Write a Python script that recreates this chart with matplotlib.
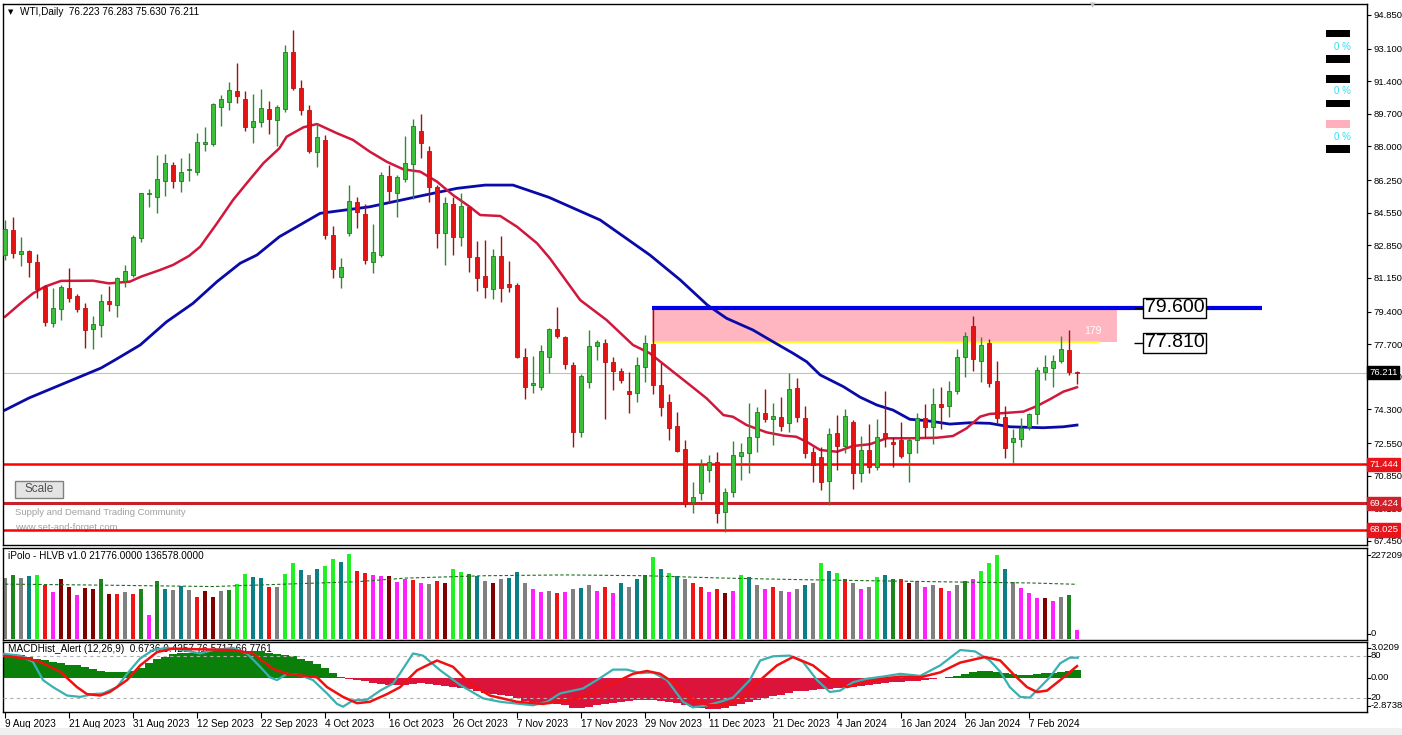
import numpy as np
import matplotlib.pyplot as plt
from matplotlib.patches import Rectangle

plt.rcParams['font.family'] = ['Liberation Sans', 'DejaVu Sans']

W, H = 1402, 735

# ---------------- data ----------------
date_labels = ['9 Aug 2023', '21 Aug 2023', '31 Aug 2023', '12 Sep 2023', '22 Sep 2023',
               '4 Oct 2023', '16 Oct 2023', '26 Oct 2023', '7 Nov 2023', '17 Nov 2023',
               '29 Nov 2023', '11 Dec 2023', '21 Dec 2023', '4 Jan 2024', '16 Jan 2024',
               '26 Jan 2024', '7 Feb 2024']
date_bars = [0, 8, 16, 24, 32, 40, 48, 56, 64, 72, 80, 88, 96, 104, 112, 120, 128]

opens = [82.35, 83.65, 82.40, 82.56, 81.99, 80.68, 78.81, 79.54, 80.63, 80.21,
         79.59, 78.50, 78.70, 79.95, 79.75, 80.99, 81.31, 83.24, 85.55, 85.37,
         86.20, 87.04, 86.20, 86.80, 86.67, 88.13, 88.13, 90.06, 90.32, 90.89,
         90.48, 89.02, 89.28, 89.96, 89.38, 89.96, 92.92, 91.05, 89.90, 87.71,
         88.34, 83.39, 81.20, 83.50, 85.11, 84.48, 81.99, 82.35, 86.46, 85.58,
         86.31, 87.09, 88.81, 87.77, 85.89, 83.50, 85.00, 83.29, 84.85, 82.25,
         81.26, 80.58, 82.30, 80.84, 80.79, 77.04, 75.60, 75.47, 77.04, 78.50,
         78.08, 76.62, 73.13, 75.73, 77.61, 77.76, 76.78, 76.31, 75.26, 75.16,
         76.52, 77.71, 75.57, 74.69, 73.44, 72.24, 69.48, 69.95, 71.15, 71.57,
         68.96, 70.00, 71.88, 72.03, 72.87, 74.12, 73.81, 73.91, 73.60, 75.42,
         73.86, 72.09, 71.83, 70.58, 73.08, 72.40, 73.65, 70.99, 72.19, 71.31,
         73.08, 72.61, 72.71, 72.03, 72.71, 73.86, 73.39, 74.59, 74.48, 75.27,
         77.04, 78.65, 76.83, 77.76, 75.78, 73.91, 72.61, 72.76, 73.39, 74.07,
         76.26, 76.46, 76.83, 77.40, 76.223]
highs = [84.17, 84.33, 83.29, 82.61, 82.40, 80.79, 80.63, 80.79, 81.67, 80.32,
         79.85, 79.17, 80.32, 80.74, 81.20, 81.83, 83.39, 85.60, 85.79, 87.56,
         87.61, 87.19, 87.40, 87.66, 88.70, 89.02, 90.27, 90.68, 91.36, 92.35,
         90.89, 90.73, 91.00, 90.37, 90.16, 93.29, 94.07, 91.46, 90.16, 89.22,
         88.60, 83.86, 82.20, 85.99, 85.37, 85.00, 83.96, 86.67, 87.04, 86.52,
         88.55, 89.43, 89.69, 88.03, 85.99, 85.37, 85.37, 85.58, 84.85, 83.08,
         83.13, 82.66, 83.34, 82.04, 80.90, 77.50, 77.09, 77.66, 78.55, 79.64,
         78.13, 76.78, 76.15, 78.44, 77.92, 77.97, 77.04, 76.46, 76.25, 77.04,
         78.18, 79.64, 76.72, 75.11, 74.17, 72.71, 70.52, 71.72, 71.93, 72.09,
         70.21, 72.66, 72.56, 74.64, 74.43, 75.37, 74.64, 74.95, 76.20, 75.94,
         74.48, 72.35, 72.35, 73.34, 74.01, 74.33, 73.75, 72.92, 73.54, 73.81,
         75.27, 72.87, 73.65, 72.82, 74.12, 74.59, 75.42, 75.47, 75.79, 77.45,
         78.34, 79.17, 78.08, 77.97, 76.83, 74.48, 73.29, 73.86, 74.12, 76.52,
         77.14, 77.14, 78.13, 78.44, 76.283]
lows = [82.09, 82.20, 81.78, 81.20, 80.11, 78.65, 78.60, 78.96, 79.90, 79.38,
        77.50, 77.45, 78.08, 79.43, 79.12, 80.68, 81.20, 83.03, 84.85, 84.54,
        85.42, 85.84, 85.63, 86.20, 86.52, 87.77, 88.03, 89.07, 89.90, 90.27,
        88.81, 88.18, 89.02, 88.65, 88.00, 89.80, 90.94, 89.64, 87.66, 86.93,
        83.18, 81.15, 80.63, 83.34, 83.76, 81.88, 81.41, 82.25, 85.06, 84.33,
        86.15, 85.27, 87.40, 85.11, 82.71, 81.83, 82.35, 82.82, 81.46, 80.48,
        80.11, 80.06, 79.90, 80.42, 76.98, 74.85, 75.16, 75.31, 76.20, 78.03,
        76.41, 72.35, 72.87, 75.42, 76.88, 73.81, 75.31, 75.68, 74.12, 74.69,
        75.73, 75.11, 73.96, 72.71, 72.09, 69.22, 68.91, 69.59, 70.52, 68.39,
        67.92, 69.74, 70.63, 71.00, 72.09, 73.65, 72.45, 73.18, 73.13, 73.65,
        71.77, 70.52, 70.11, 69.33, 71.15, 72.03, 70.16, 70.52, 70.99, 71.15,
        72.35, 71.31, 71.78, 70.52, 72.03, 72.87, 72.50, 73.29, 73.91, 75.11,
        76.00, 76.31, 75.73, 75.47, 73.60, 71.77, 71.52, 72.35, 73.23, 73.54,
        75.84, 75.47, 76.72, 76.10, 75.630]
closes = [83.70, 82.45, 82.56, 81.99, 80.58, 78.86, 79.59, 80.68, 80.11, 79.54,
          78.44, 78.76, 79.95, 79.80, 81.15, 81.52, 83.29, 85.58, 85.60, 86.31,
          87.14, 86.20, 86.67, 86.82, 88.24, 88.24, 90.21, 90.48, 90.94, 90.63,
          89.02, 89.33, 90.01, 89.43, 90.06, 92.92, 91.05, 89.90, 87.77, 88.50,
          83.39, 81.62, 81.73, 85.16, 84.59, 82.09, 82.51, 86.52, 85.68, 86.41,
          87.14, 89.07, 88.18, 85.89, 83.50, 85.06, 83.29, 84.90, 82.25, 81.15,
          80.68, 82.30, 80.63, 80.68, 77.04, 75.47, 75.70, 77.35, 78.50, 78.13,
          76.67, 73.13, 76.05, 77.61, 77.82, 76.78, 76.31, 75.84, 75.11, 76.62,
          77.76, 75.57, 74.43, 73.34, 72.14, 69.38, 69.74, 71.41, 71.57, 68.91,
          70.00, 71.93, 72.09, 72.87, 74.17, 73.81, 73.96, 73.44, 75.37, 73.91,
          72.03, 71.41, 70.52, 73.03, 72.40, 73.96, 70.99, 72.19, 71.31, 72.87,
          72.82, 72.50, 71.88, 72.71, 73.86, 73.39, 74.59, 74.43, 75.27, 77.04,
          78.13, 76.93, 77.66, 75.68, 73.86, 72.29, 72.82, 73.34, 74.07, 76.36,
          76.52, 76.83, 77.45, 76.26, 76.211]

# moving averages as drawn on the chart (bar index, price)
ma_fast_bars = [0, 2, 3.5, 5, 7, 11, 13, 15.6, 17, 19.4, 21, 23, 24.4, 26.5, 28.5, 30.2, 32.3,
                34.3, 35.2, 37.3, 39, 41.5, 43.5, 45.6, 47.7, 49.8, 51.9, 54, 56, 58.1, 59.4,
                61.9, 64, 66.5, 68.1, 71.9, 75.2, 78.5, 80.6, 83.5, 85.6, 87.7, 89.8, 91,
                92.7, 95.2, 97.3, 98.9, 100.2, 101.9, 104, 106, 108.1, 110.2, 113.1, 116.5,
                118.5, 120.2, 121.9, 123.1, 124.4, 127.3, 129, 130.6, 132.3, 134]
ma_fast = [79.13, 79.85, 80.35, 80.70, 81.00, 81.01, 80.87, 80.96, 81.22, 81.57, 81.83,
           82.30, 82.78, 84.00, 85.21, 86.08, 87.13, 87.91, 88.51, 89.00, 89.17, 88.69,
           88.34, 87.73, 87.21, 86.81, 86.69, 86.17, 85.47, 84.86, 84.43, 84.38, 83.82,
           82.96, 82.18, 80.00, 78.96, 77.66, 77.23, 76.27, 75.58, 74.88, 74.01, 73.92,
           73.49, 73.11, 72.94, 72.88, 72.62, 72.19, 72.10, 72.40, 72.49, 72.80, 72.80,
           72.83, 72.92, 73.32, 73.93, 74.07, 74.10, 74.19, 74.48, 74.83, 75.23, 75.46]
ma_slow_bars = [0, 3, 6, 9, 12, 13.75, 16.9, 20.2, 23.5, 26.5, 29.4, 31.5, 34.3, 39.4, 45.6,
                51.9, 56.5, 60, 63.5, 68, 74.4, 80.6, 84.4, 87.8, 90.2, 93.5, 96, 98.5,
                100.2, 101.9, 104.8, 106.9, 109, 111, 113.1, 115.2, 118.1, 120.6, 123.1,
                125.6, 129.8, 132.3, 134]
ma_slow = [74.27, 74.90, 75.42, 75.94, 76.46, 76.88, 77.66, 78.87, 79.83, 80.96, 81.92,
           82.35, 83.30, 84.52, 84.86, 85.42, 85.82, 85.99, 85.99, 85.35, 84.17, 82.35,
           81.05, 79.74, 79.05, 78.44, 77.83, 77.23, 76.79, 76.10, 75.49, 74.94, 74.53,
           74.27, 73.79, 73.72, 73.54, 73.61, 73.58, 73.40, 73.35, 73.40, 73.49]

levels = [71.444, 69.424, 68.025]
zone_top, zone_bottom = 79.600, 77.810
last_price = 76.211
price_ticks = [94.85, 93.10, 91.40, 89.70, 88.00, 86.25, 84.55, 82.85, 81.15, 79.40,
               77.70, 76.00, 74.30, 72.55, 70.85, 69.15, 67.45]

# volume (thousands) and HLVB colour codes, one per bar
volume = [153, 160, 153, 158, 160, 134, 118, 150, 131, 110,
          128, 125, 150, 113, 113, 118, 113, 125, 60, 145,
          125, 122, 132, 122, 105, 120, 105, 120, 122, 138,
          163, 155, 152, 130, 130, 163, 190, 172, 160, 175,
          182, 200, 193, 213, 170, 165, 160, 158, 158, 143,
          150, 148, 140, 138, 145, 140, 175, 168, 162, 158,
          145, 140, 150, 152, 168, 140, 125, 118, 120, 115,
          118, 125, 128, 135, 120, 130, 115, 140, 130, 150,
          160, 205, 175, 165, 158, 150, 140, 130, 118, 125,
          115, 120, 160, 155, 135, 125, 130, 120, 118, 125,
          135, 140, 190, 170, 165, 150, 140, 125, 130, 155,
          160, 150, 150, 140, 145, 130, 135, 128, 120, 135,
          145, 150, 170, 190, 210, 175, 142, 127, 116, 102,
          102, 95, 105, 110, 21.8]
vol_codes = list('GFGTLRMDDM' 'DDFDRGRFMF' 'TGTGRDDGFL' 'LTTRGLLTGT' 'LLTLRRMMDM'
                 'MRMGRDLLFT' 'GDGTTGMMGR' 'MGTGMRMTGT' 'FLTLTGRRMR' 'DMLTGMRGMG'
                 'TGLTLRGMGL' 'TFRDGMGRMG' 'FMLLLTGMMM' 'DMGFM')
vol_ma_bars = [0, 10, 26, 35, 44, 50, 60, 70, 80, 90, 100, 110, 120, 128, 134]
vol_ma = [137, 135, 131, 137, 143, 152, 158, 160, 158, 152, 148, 145, 142, 140, 136.6]

macd = [2.05, 2.05, 1.95, 1.80, 1.60, 1.50, 1.35, 1.25, 1.15, 1.10,
        0.95, 0.80, 0.60, 0.50, 0.50, 0.50, 0.60, 0.85, 1.30, 1.60,
        1.80, 2.00, 2.10, 2.15, 2.20, 2.25, 2.30, 2.35, 2.35, 2.30,
        2.30, 2.30, 2.25, 2.10, 2.00, 1.95, 1.85, 1.60, 1.45, 1.20,
        0.85, 0.45, 0.10, -0.10, -0.15, -0.25, -0.40, -0.50, -0.55, -0.60,
        -0.60, -0.50, -0.40, -0.45, -0.60, -0.65, -0.75, -0.80, -0.90, -1.10,
        -1.25, -1.30, -1.40, -1.50, -1.70, -1.90, -2.00, -2.05, -2.10, -2.20,
        -2.30, -2.50, -2.50, -2.40, -2.30, -2.20, -2.10, -2.00, -1.95, -1.85,
        -1.80, -1.80, -1.90, -2.00, -2.10, -2.30, -2.45, -2.50, -2.60, -2.60,
        -2.55, -2.35, -2.15, -2.00, -1.80, -1.65, -1.50, -1.40, -1.25, -1.10,
        -1.05, -1.00, -0.95, -0.90, -0.85, -0.80, -0.75, -0.70, -0.60, -0.50,
        -0.40, -0.35, -0.30, -0.25, -0.20, -0.15, -0.05, 0.05, 0.10, 0.20,
        0.35, 0.50, 0.60, 0.60, 0.55, 0.45, 0.35, 0.30, 0.30, 0.35,
        0.40, 0.45, 0.50, 0.58, 0.67]

stoch_k_bars = [-0.6, 1.9, 3.5, 4.75, 6, 7.75, 9.4, 11, 12.25, 14, 15.25, 16.9, 18.5, 20.25,
                22.25, 24.4, 26, 27.75, 28.5, 30.25, 31.9, 33.1, 34, 35.25, 36.9, 38.5,
                40.25, 41.5, 42.25, 43.5, 45.25, 46.9, 48.5, 49.4, 51, 52.25, 54.4, 56.9,
                59.75, 61.9, 66, 67.75, 69.4, 72.25, 74.4, 76, 77.75, 79.4, 81, 82.75,
                84.75, 86, 87.75, 89.4, 91, 93.1, 94.4, 96, 98.1, 99.75, 101.5, 103.1,
                104.4, 106, 107.75, 109.75, 111.9, 114.4, 116.9, 119.4, 121.25, 123.1,
                124.4, 125.6, 126.9, 128.1, 129.4, 130.6, 131.9, 133.1, 134.1]
stoch_k = [84, 81, 72, 46, 36, 24, 22, 26, 27, 36, 55, 77, 89, 92, 89, 84, 89, 91, 92, 84,
           65, 50, 46, 55, 53, 46, 27, 12, 8, 17, 18, 31, 41, 56, 84, 81, 60, 39, 20, 15,
           10, 15, 27, 34, 49, 61, 61, 56, 57, 46, 15, 7, 10, 15, 21, 46, 74, 80, 81, 72,
           46, 29, 31, 43, 48, 51, 55, 52, 67, 89, 87, 74, 58, 36, 22, 21, 36, 50, 70,
           78, 78]
stoch_d_bars = [-0.6, 2.75, 4.4, 6.9, 9, 10.25, 11.9, 13.1, 15.25, 16.9, 19, 21, 24.4, 28.5,
                31, 33.5, 35.25, 39, 40.25, 42.25, 44, 45.6, 47.75, 49.4, 51.5, 54, 56,
                58.1, 60.6, 64, 67.25, 70.25, 72.75, 76, 78.5, 80.25, 81.9, 84, 86, 88.1,
                90.25, 92.25, 94.4, 96.5, 98.5, 101, 103.1, 105.25, 107.25, 109.75, 111.9,
                114.4, 116.9, 119.4, 122.5, 124.4, 126, 127.75, 129, 130.25, 131.9, 134]
stoch_d = [81, 77, 72, 58, 36, 26, 24, 29, 46, 67, 86, 91, 90, 89, 84, 62, 55, 50, 36, 22,
           13, 15, 26, 36, 60, 74, 65, 41, 24, 15, 12, 17, 24, 41, 55, 59, 55, 39, 17, 10,
           10, 20, 46, 67, 79, 67, 48, 36, 42, 48, 51, 50, 57, 71, 79, 74, 55, 36, 29, 31,
           46, 66]

# ---------------- helpers: pixel -> data ----------------
def rect(x0, y0, x1, y1):
    return [x0 / W, 1 - y1 / H, (x1 - x0) / W, (y1 - y0) / H]

def px2bar(px):
    return (px - 5) / 8.0

def py2price(py):
    return 94.85 - (py - 15) / 19.197

bars = np.arange(len(closes))
o = np.array(opens); c = np.array(closes); hi = np.array(highs); lo = np.array(lows)
up = c >= o
FS = 6.8  # axis text size

fig = plt.figure(figsize=(W / 100, H / 100), dpi=100)
fig.patch.set_facecolor('white')

ax = fig.add_axes(rect(3, 4, 1367, 545))
axv = fig.add_axes(rect(3, 547.5, 1367, 640))
axm = fig.add_axes(rect(3, 642.3, 1367, 712.3))

xlim = (px2bar(3), px2bar(1367))
for a in (ax, axv, axm):
    a.set_xlim(*xlim)
    for s in a.spines.values():
        s.set_color('black')
        s.set_linewidth(1)

# ---------------- main price panel ----------------
ax.set_ylim(py2price(545), py2price(4))
ax.yaxis.tick_right()
ax.set_yticks(price_ticks)
ax.set_yticklabels(['%.3f' % v for v in price_ticks])
ax.tick_params(axis='y', direction='out', length=3, width=0.8, labelsize=FS, pad=1.5)
ax.set_xticks([])

# zone
ax.add_patch(Rectangle((px2bar(652), zone_bottom), px2bar(1117) - px2bar(652),
                       zone_top - zone_bottom, facecolor='#FFB6C1', edgecolor='none', zorder=1))
ax.hlines(zone_bottom, px2bar(652), px2bar(1100), color='#FFFF00', lw=1.2, zorder=1.5)
ax.text(px2bar(1093), py2price(331), '179', color='white', fontsize=7.5, ha='center',
        va='center', zorder=2)

# horizontal levels
ax.axhline(last_price, color='#C0C0C0', lw=0.8, zorder=1)
ax.axhline(levels[0], color='#FF0000', lw=1.8, zorder=1.5)
ax.axhline(levels[1], color='#C8202A', lw=2.2, zorder=1.5)
ax.axhline(levels[2], color='#FF0000', lw=1.8, zorder=1.5)

# moving averages
ax.plot(ma_slow_bars, ma_slow, color='#0A0AA8', lw=2, zorder=2)
ax.plot(ma_fast_bars, ma_fast, color='#D0183C', lw=1.8, zorder=2)

# candles
body_w = 0.62
wick_col = np.where(up, '#2E8B2E', '#A01010')
ax.vlines(bars, lo, hi, colors=wick_col, lw=1.0, zorder=3)
body_h = np.maximum(np.abs(c - o), 0.04)
ax.bar(bars, body_h, bottom=np.minimum(o, c), width=body_w,
       color=np.where(up, '#3CC03C', '#E41414'),
       edgecolor=np.where(up, '#1F7A1F', '#C01010'), linewidth=0.6, zorder=4)

# zone top line drawn over
ax.hlines(zone_top, px2bar(652), px2bar(1262), color='#0000E6', lw=3, zorder=5)

# big level labels
for val, py in ((zone_top, 308), (zone_bottom, 343)):
    ax.hlines(py2price(py), px2bar(1134), px2bar(1144), color='black', lw=1, zorder=6)
    ax.text(px2bar(1145), py2price(py), '%.3f' % val, fontsize=14, color='black',
            ha='left', va='center', zorder=7,
            bbox=dict(boxstyle='square,pad=0.08', fc='white', ec='black', lw=1))

# price boxes on the axis
def price_box(val, fc):
    ax.text(1.0015, val, '%.3f' % val, transform=ax.get_yaxis_transform(), fontsize=FS,
            color='white', ha='left', va='center', zorder=10, clip_on=False,
            bbox=dict(boxstyle='square,pad=0.22', fc=fc, ec=fc))

price_box(last_price, 'black')
price_box(levels[0], '#E8141C')
price_box(levels[1], '#D0202A')
price_box(levels[2], '#E8141C')

# legend-like boxes top right
for y0, y1, col in ((30, 37, 'black'), (55, 63, 'black'), (75, 83, 'black'),
                    (100, 107, 'black'), (120, 128, '#FFB0BC'), (145, 153, 'black')):
    ax.add_patch(Rectangle((px2bar(1326), py2price(y1)), px2bar(1350) - px2bar(1326),
                           py2price(y0) - py2price(y1), facecolor=col, edgecolor='none',
                           zorder=6))
for py in (47, 91, 137):
    ax.text(px2bar(1342), py2price(py), '0 %', color='#30E0F0', fontsize=7, ha='center',
            va='center', zorder=6)

# header / watermark / button
ax.text(px2bar(8), py2price(12), '\u25BC', fontsize=5, color='black', ha='left',
        va='center', family='DejaVu Sans')
ax.text(px2bar(20), py2price(12), 'WTI,Daily  76.223 76.283 75.630 76.211', fontsize=7.2,
        color='black', ha='left', va='center')
ax.add_patch(Rectangle((px2bar(15), py2price(498)), px2bar(63) - px2bar(15),
                       py2price(481) - py2price(498), facecolor='#E4E4E4',
                       edgecolor='#808080', lw=1, zorder=6))
ax.text(px2bar(39), py2price(489.5), 'Scale', fontsize=8.5, color='#505050', ha='center',
        va='center', zorder=7)
ax.text(px2bar(15), py2price(513), 'Supply and Demand Trading Community', fontsize=6.8,
        color='#A0A0A0', ha='left', va='center', zorder=1)
ax.text(px2bar(15), py2price(528), 'www.set-and-forget.com', fontsize=6.8,
        color='#A0A0A0', ha='left', va='center', zorder=1)

# ---------------- volume panel ----------------
cmap = {'G': '#808080', 'F': '#1E841E', 'T': '#0A7F86', 'L': '#22F022',
        'R': '#F01414', 'M': '#FF22FF', 'D': '#800000'}
vol_scale = 2.497  # thousands per pixel
axv.set_ylim(-1 * vol_scale, (639 - 547.5) * vol_scale)
axv.bar(bars, volume, width=0.62, color=[cmap[k] for k in vol_codes], linewidth=0)
axv.plot(vol_ma_bars, vol_ma, color='#1E6E1E', lw=0.8, ls=(0, (3, 2)))
axv.set_xticks([]); axv.set_yticks([])
axv.text(px2bar(8), (639 - 556) * vol_scale, 'iPolo - HLVB v1.0 21776.0000 136578.0000',
         fontsize=7.2, ha='left', va='center')

def right_label(txt, py):
    fig.text(1370.5 / W, 1 - py / H, txt, fontsize=FS, ha='left', va='center')
    fig.add_artist(plt.Line2D([1367 / W, 1370 / W], [1 - py / H, 1 - py / H],
                              color='black', lw=0.8))

right_label('227209', 555)
right_label('0', 634)

# ---------------- MACD / stochastic panel ----------------
axm.set_ylim(-2.8738, 3.0209)
axm.bar(bars, macd, width=1.0, color=['#0A800A' if v >= 0 else '#DC143C' for v in macd],
        linewidth=0)
axm.set_yticks([])
axs = axm.twinx()
axs.set_xlim(*xlim)
axs.set_ylim(0, 100)
axs.set_yticks([])
for s in axs.spines.values():
    s.set_visible(False)
axs.axhline(80, color='#B0B0B0', lw=0.8, ls=(0, (3, 3)))
axs.axhline(20, color='#B0B0B0', lw=0.8, ls=(0, (3, 3)))
axs.plot(stoch_k_bars, stoch_k, color='#3AB0B0', lw=1.6)
axs.plot(stoch_d_bars, stoch_d, color='#F01010', lw=1.8)
axm.text(px2bar(8), 2.45, 'MACDHist_Alert (12,26,9)  0.6736 0.4257 76.5717 66.7761',
         fontsize=7.2, ha='left', va='center', zorder=0)
for txt, py in (('3.0209', 648), ('80', 656), ('0.00', 678), ('20', 698), ('-2.8738', 706)):
    right_label(txt, py)

axm.set_xticks(date_bars)
axm.set_xticklabels(date_labels, ha='left')
axm.tick_params(axis='x', direction='out', length=4, width=0.8, labelsize=7.2, pad=1)

# window chrome
fig.add_artist(Rectangle((0, 0), 1, 7 / H, transform=fig.transFigure,
                         facecolor='#F0F0F0', edgecolor='none'))
fig.text(1093 / W, 1 - 5 / H, '\u25BC', fontsize=5, color='#C0C0C0', ha='center',
         va='center', family='DejaVu Sans')

fig.savefig('out.png', dpi=100)
